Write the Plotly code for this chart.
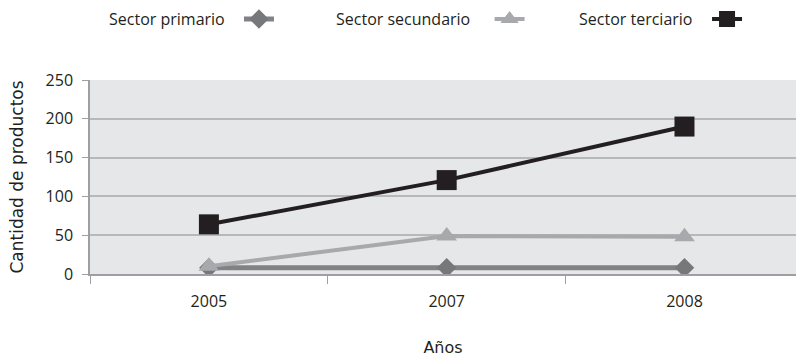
import plotly.graph_objects as go

# Datos: productos por sector y año
years = ["2005", "2007", "2008"]
primario = [8, 8, 8]
secundario = [10, 49, 48]
terciario = [64, 121, 190]
y_ticks = [0, 50, 100, 150, 200, 250]
series_names = ["Sector primario", "Sector secundario", "Sector terciario"]

TEXT_FONT = "Open Sans"
TITLE_FONT = "DejaVu Sans"

fig = go.Figure()

# Sector primario: gris medio con rombos
fig.add_trace(go.Scatter(
    x=years, y=primario, mode="lines+markers", name="",
    line=dict(color="#808285", width=5),
    marker=dict(symbol="diamond", size=15, color="#77787b"),
    legend="legend", showlegend=True,
))
# Sector secundario: gris claro con triángulos
fig.add_trace(go.Scatter(
    x=years, y=secundario, mode="lines+markers", name="",
    line=dict(color="#a7a9ac", width=4),
    marker=dict(symbol="triangle-up", size=18, color="#a7a9ac"),
    legend="legend2", showlegend=True,
))
# Sector terciario: negro con cuadrados
fig.add_trace(go.Scatter(
    x=years, y=terciario, mode="lines+markers", name="",
    line=dict(color="#231f20", width=4),
    marker=dict(symbol="square", size=20, color="#231f20"),
    legend="legend3", showlegend=True,
))

# Texto de la leyenda a la izquierda de cada símbolo
label_x = [0.194, 0.541, 0.8555]
for name, lx in zip(series_names, label_x):
    fig.add_annotation(
        text=name, xref="paper", yref="paper", x=lx, y=1.314,
        xanchor="right", yanchor="middle", showarrow=False,
        font=dict(family=TEXT_FONT, size=16, color="#231f20"),
    )

legend_common = dict(
    orientation="h", yanchor="middle", y=1.314, xanchor="left",
    bgcolor="rgba(0,0,0,0)", borderwidth=0,
    font=dict(family=TEXT_FONT, size=1, color="#231f20"),
    itemwidth=30,
)

fig.update_layout(
    width=796, height=357,
    margin=dict(l=90, r=0, t=80, b=83, autoexpand=False),
    paper_bgcolor="white",
    plot_bgcolor="#e6e7e8",
    legend=dict(x=0.211, **legend_common),
    legend2=dict(x=0.566, **legend_common),
    legend3=dict(x=0.874, **legend_common),
    xaxis=dict(
        type="category", range=[-0.5, 2.469],
        tickson="boundaries", ticks="outside", ticklen=8,
        tickcolor="#9d9fa2", showgrid=False,
        showline=True, linecolor="#9d9fa2", linewidth=1.5,
        tickfont=dict(family=TEXT_FONT, size=16, color="#231f20"),
        ticklabelstandoff=12,
        title=dict(text="Años", standoff=31,
                   font=dict(family=TITLE_FONT, size=16, color="#231f20")),
        automargin=False, zeroline=False,
    ),
    yaxis=dict(
        range=[0, 250], tickvals=y_ticks,
        ticks="outside", ticklen=6, tickcolor="#9d9fa2",
        showgrid=True, gridcolor="#b7b8ba", gridwidth=1.5,
        showline=True, linecolor="#9d9fa2", linewidth=1.5,
        tickfont=dict(family=TEXT_FONT, size=16, color="#231f20"),
        ticklabelstandoff=6,
        title=dict(text="Cantidad de productos", standoff=18,
                   font=dict(family=TITLE_FONT, size=17, color="#231f20")),
        automargin=False, zeroline=False,
    ),
)

fig.write_html("out.html")
